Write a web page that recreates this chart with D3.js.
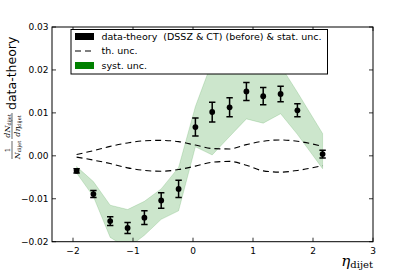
<!DOCTYPE html>
<html><head><meta charset="utf-8">
<script src="https://cdn.jsdelivr.net/npm/d3@7"></script>
<style>body{margin:0;background:#fff}svg{display:block}</style>
</head><body><svg id="c" width="415" height="277"></svg>
<script>
const eta = [-1.94,-1.66,-1.38,-1.09,-0.81,-0.53,-0.24,0.04,0.32,0.61,0.89,1.17,1.46,1.74,2.16];
const diff = [-0.0035,-0.0089,-0.0152,-0.0168,-0.0144,-0.0104,-0.0077,0.0067,0.0102,0.0113,0.0150,0.0139,0.0144,0.0106,0.0004];
const statErr = [0.0005,0.0008,0.0010,0.0013,0.0016,0.0018,0.0020,0.0021,0.0023,0.0022,0.0021,0.0020,0.0018,0.0015,0.0009];
const systUp = [-0.0025,-0.0060,-0.0115,-0.0125,-0.0106,-0.0077,-0.0027,0.0115,0.0220,0.0260,0.0270,0.0250,0.0210,0.0148,0.0052];
const systDn = [-0.0040,-0.0095,-0.0190,-0.0215,-0.0185,-0.0148,-0.0128,0.0021,0.0002,0.0045,0.0086,0.0076,0.0098,0.0050,-0.0030];
const thUp = [0.0003,0.0012,0.0022,0.0030,0.0035,0.0036,0.0033,0.0025,0.0017,0.0016,0.0026,0.0034,0.0037,0.0034,0.0022];
const thDn = [-0.0003,-0.0010,-0.0018,-0.0028,-0.0034,-0.0036,-0.0032,-0.0024,-0.0015,-0.0013,-0.0022,-0.0035,-0.0038,-0.0034,-0.0023];
const xTicks = [-2,-1,0,1,2,3];
const xTickLabels = ["\u22122","\u22121","0","1","2","3"];
const yTicks = [-0.02,-0.01,0,0.01,0.02,0.03];
const yTickLabels = ["\u22120.02","\u22120.01","0.00","0.01","0.02","0.03"];
const legendLabels = ["data-theory  (DSSZ & CT) (before) & stat. unc.","th. unc.","syst. unc."];

const svg = d3.select("#c");
const L=52, R=373, T=27, B=241.7;
const x = d3.scaleLinear().domain([-2.35,3]).range([L,R]);
const y = d3.scaleLinear().domain([-0.02,0.03]).range([B,T]);
const font = "'DejaVu Sans', sans-serif";

svg.append("clipPath").attr("id","clip").append("rect").attr("x",L).attr("y",T).attr("width",R-L).attr("height",B-T);
const g = svg.append("g").attr("clip-path","url(#clip)");

const pts = eta.map((e,i)=>({e,v:diff[i],s:statErr[i],u:systUp[i],d:systDn[i],tu:thUp[i],td:thDn[i]}));

g.append("path").datum(pts)
  .attr("d", d3.area().x(p=>x(p.e)).y0(p=>y(p.d)).y1(p=>y(p.u)))
  .attr("fill","green").attr("fill-opacity",0.2)
  .attr("stroke","green").attr("stroke-opacity",0.15).attr("stroke-width",1);

["tu","td"].forEach(k=>{
  g.append("path").datum(pts)
    .attr("d", d3.line().curve(d3.curveMonotoneX).x(p=>x(p.e)).y(p=>y(p[k])))
    .attr("fill","none").attr("stroke","#000").attr("stroke-width",1.1)
    .attr("stroke-dasharray","6,4");
});

const eb = g.append("g").attr("stroke","#000").attr("stroke-width",1.5);
pts.forEach(p=>{
  const cx=x(p.e), y1=y(p.v+p.s), y2=y(p.v-p.s);
  eb.append("line").attr("x1",cx).attr("x2",cx).attr("y1",y1).attr("y2",y2);
  eb.append("line").attr("x1",cx-3.2).attr("x2",cx+3.2).attr("y1",y1).attr("y2",y1);
  eb.append("line").attr("x1",cx-3.2).attr("x2",cx+3.2).attr("y1",y2).attr("y2",y2);
});
g.selectAll("circle.m").data(pts).enter().append("circle")
  .attr("cx",p=>x(p.e)).attr("cy",p=>y(p.v)).attr("r",2.9).attr("fill","#000");

svg.append("rect").attr("x",L).attr("y",T).attr("width",R-L).attr("height",B-T)
  .attr("fill","none").attr("stroke","#000").attr("stroke-width",1);

const tk = svg.append("g").attr("stroke","#000").attr("stroke-width",0.8);
xTicks.forEach(t=>{
  tk.append("line").attr("x1",x(t)).attr("x2",x(t)).attr("y1",B).attr("y2",B-4);
  tk.append("line").attr("x1",x(t)).attr("x2",x(t)).attr("y1",T).attr("y2",T+4);
});
yTicks.forEach(t=>{
  tk.append("line").attr("x1",L).attr("x2",L+4).attr("y1",y(t)).attr("y2",y(t));
  tk.append("line").attr("x1",R).attr("x2",R-4).attr("y1",y(t)).attr("y2",y(t));
});
xTicks.forEach((t,i)=>{
  svg.append("text").attr("x",x(t)).attr("y",254).attr("text-anchor","middle")
    .attr("font-family",font).attr("font-size",9).text(xTickLabels[i]);
});
yTicks.forEach((t,i)=>{
  svg.append("text").attr("x",48.5).attr("y",y(t)+3.2).attr("text-anchor","end")
    .attr("font-family",font).attr("font-size",9).text(yTickLabels[i]);
});

const xl = svg.append("text").attr("x",373).attr("y",266).attr("text-anchor","end")
  .attr("font-family","'DejaVu Serif', serif");
xl.append("tspan").attr("font-size",15).attr("font-style","italic").text("\u03b7");
xl.append("tspan").attr("font-size",10).attr("dy",2).text("dijet");

const yl = svg.append("g").attr("transform","rotate(-90)");
const serif = "'DejaVu Serif', serif";
yl.append("text").attr("x",-150).attr("y",10).attr("text-anchor","middle").attr("font-family",serif).attr("font-size",7).text("1");
yl.append("line").attr("x1",-159).attr("x2",-141).attr("y1",12).attr("y2",12).attr("stroke","#000").attr("stroke-width",0.6);
const nd = yl.append("text").attr("x",-150).attr("y",19.5).attr("text-anchor","middle").attr("font-family",serif).attr("font-size",8);
nd.append("tspan").attr("font-style","italic").text("N");
nd.append("tspan").attr("font-size",5).attr("dy",1).text("dijet");
const num = yl.append("text").attr("x",-126).attr("y",10).attr("text-anchor","middle").attr("font-family",serif).attr("font-size",8);
num.append("tspan").attr("font-style","italic").text("dN");
num.append("tspan").attr("font-size",5).attr("dy",1).text("dijet");
yl.append("line").attr("x1",-139).attr("x2",-113).attr("y1",12).attr("y2",12).attr("stroke","#000").attr("stroke-width",0.6);
const den = yl.append("text").attr("x",-126).attr("y",19.5).attr("text-anchor","middle").attr("font-family",serif).attr("font-size",8);
den.append("tspan").attr("font-style","italic").text("d\u03b7");
den.append("tspan").attr("font-size",5).attr("dy",1).text("dijet");
yl.append("text").attr("x",-110).attr("y",16).attr("text-anchor","start").attr("font-family",font).attr("font-size",12.5).text("data-theory");

const lg = svg.append("g");
lg.append("rect").attr("x",71).attr("y",29.5).attr("width",256.5).attr("height",44.5)
  .attr("fill","#fff").attr("stroke","#000").attr("stroke-width",1);
const rowY = [36.5,51,65.5];
lg.append("rect").attr("x",75).attr("y",rowY[0]-3.5).attr("width",19).attr("height",7).attr("fill","#000");
lg.append("line").attr("x1",75).attr("x2",94).attr("y1",rowY[1]).attr("y2",rowY[1])
  .attr("stroke","#000").attr("stroke-width",1.1).attr("stroke-dasharray","6,4");
lg.append("rect").attr("x",75).attr("y",rowY[2]-3.5).attr("width",19).attr("height",7).attr("fill","green");
legendLabels.forEach((t,i)=>{
  lg.append("text").attr("x",101.5).attr("y",rowY[i]+3.3).attr("font-family",font).attr("font-size",9.5)
    .attr("xml:space","preserve").style("white-space","pre").text(t);
});
</script></body></html>
